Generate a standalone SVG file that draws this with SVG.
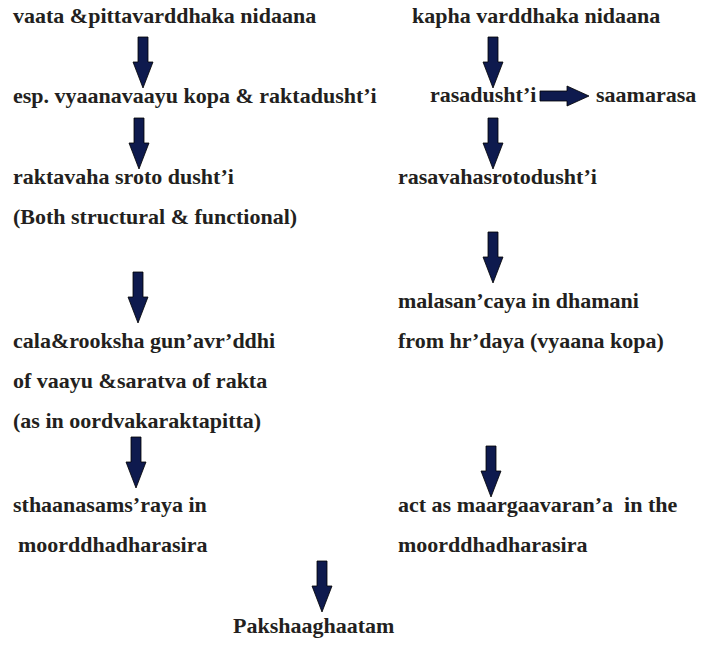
<svg xmlns="http://www.w3.org/2000/svg" xmlns:xlink="http://www.w3.org/1999/xlink" width="715" height="646" viewBox="0 0 715 646">
<defs>
<path id="da" d="M-5,0 H5 V25 H10 L0,51 L-10,25 H-5 Z" fill="#0e1a4e" stroke="#000" stroke-width="0.8"/>
<path id="ra" d="M0,-5 H27 V-10 L49,0 L27,10 V5 H0 Z" fill="#0e1a4e" stroke="#000" stroke-width="0.8"/>
</defs>
<rect width="715" height="646" fill="#fff"/>
<g id="connectors">
<use xlink:href="#da" x="143" y="37"/>
<use xlink:href="#da" x="139" y="118"/>
<use xlink:href="#da" x="138" y="272"/>
<use xlink:href="#da" x="136" y="437"/>
<use xlink:href="#da" x="493" y="37"/>
<use xlink:href="#ra" x="540" y="96"/>
<use xlink:href="#da" x="493" y="118"/>
<use xlink:href="#da" x="493" y="232"/>
<use xlink:href="#da" x="491" y="446"/>
<use xlink:href="#da" x="322" y="561"/>
</g>
<g id="n1"><text x="13" y="23" font-family="Liberation Serif, serif" font-weight="bold" font-size="22" fill="#231f20">vaata &amp;pittavarddhaka nidaana</text></g>
<g id="n2"><text x="13" y="103" font-family="Liberation Serif, serif" font-weight="bold" font-size="22" fill="#231f20">esp. vyaanavaayu kopa &amp; raktadusht’i</text></g>
<g id="n3"><text x="13" y="184" font-family="Liberation Serif, serif" font-weight="bold" font-size="22" fill="#231f20">raktavaha sroto dusht’i</text>
<text x="13" y="224" font-family="Liberation Serif, serif" font-weight="bold" font-size="22" fill="#231f20">(Both structural &amp; functional)</text></g>
<g id="n4"><text x="13" y="348" font-family="Liberation Serif, serif" font-weight="bold" font-size="22" fill="#231f20">cala&amp;rooksha gun’avr’ddhi</text>
<text x="13" y="388" font-family="Liberation Serif, serif" font-weight="bold" font-size="22" fill="#231f20">of vaayu &amp;saratva of rakta</text>
<text x="13" y="428" font-family="Liberation Serif, serif" font-weight="bold" font-size="22" fill="#231f20">(as in oordvakaraktapitta)</text></g>
<g id="n5"><text x="13" y="512" font-family="Liberation Serif, serif" font-weight="bold" font-size="22" fill="#231f20">sthaanasams’raya in</text>
<text x="18" y="552" font-family="Liberation Serif, serif" font-weight="bold" font-size="22" fill="#231f20">moorddhadharasira</text></g>
<g id="n6"><text x="412" y="23" font-family="Liberation Serif, serif" font-weight="bold" font-size="22" fill="#231f20">kapha varddhaka nidaana</text></g>
<g id="n7"><text x="430" y="102" font-family="Liberation Serif, serif" font-weight="bold" font-size="22" fill="#231f20">rasadusht’i</text></g>
<g id="n8"><text x="596" y="102" font-family="Liberation Serif, serif" font-weight="bold" font-size="22" fill="#231f20">saamarasa</text></g>
<g id="n9"><text x="398" y="184" font-family="Liberation Serif, serif" font-weight="bold" font-size="22" fill="#231f20">rasavahasrotodusht’i</text></g>
<g id="n10"><text x="398" y="308" font-family="Liberation Serif, serif" font-weight="bold" font-size="22" fill="#231f20">malasan’caya in dhamani</text>
<text x="398" y="348" font-family="Liberation Serif, serif" font-weight="bold" font-size="22" fill="#231f20">from hr’daya (vyaana kopa)</text></g>
<g id="n11"><text x="398" y="512" font-family="Liberation Serif, serif" font-weight="bold" font-size="22" fill="#231f20" xml:space="preserve">act as maargaavaran’a  in the</text>
<text x="398" y="552" font-family="Liberation Serif, serif" font-weight="bold" font-size="22" fill="#231f20">moorddhadharasira</text></g>
<g id="n12"><text x="233" y="633" font-family="Liberation Serif, serif" font-weight="bold" font-size="22" fill="#231f20">Pakshaaghaatam</text></g>
</svg>
